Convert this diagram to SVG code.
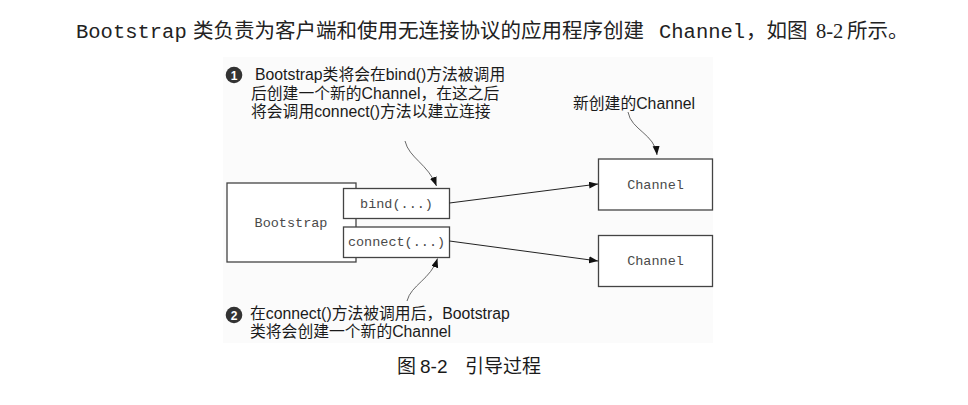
<svg xmlns="http://www.w3.org/2000/svg" width="968" height="405" viewBox="0 0 968 405">
<style>
.cn{font-family:"Liberation Sans","Noto Sans CJK SC",sans-serif;font-size:15.8px;fill:#1a1a1a}
.mono{font-family:"Liberation Mono","DejaVu Sans Mono",monospace;font-size:13.5px;fill:#4a4a4a;text-anchor:middle}
.box{fill:#fff;stroke:#444;stroke-width:1.3}
.conn{fill:none;stroke:#222;stroke-width:1}
.curve{fill:none;stroke:#444;stroke-width:0.8}
.num{font-family:"Liberation Sans",sans-serif;font-size:12px;font-weight:bold;fill:#fff;text-anchor:middle}
.top{font-size:20.5px;fill:#222}
.cap{font-family:"Liberation Sans","Noto Sans CJK SC",sans-serif;font-size:19px;fill:#1a1a1a}
</style>
<defs>
<marker id="ah" markerUnits="userSpaceOnUse" markerWidth="10" markerHeight="8" refX="9" refY="3.5" orient="auto">
<path d="M0,0 L9,3.5 L0,7 z" fill="#111"/>
</marker>
</defs>
<rect width="968" height="405" fill="#fff"/>
<text class="top" y="38"><tspan x="76" font-family="Liberation Mono,monospace">Bootstrap</tspan><tspan x="193" font-family="Noto Sans CJK SC,sans-serif">类负责为客户端和使用无连接协议的应用程序创建</tspan><tspan x="659" font-family="Liberation Mono,monospace">Channel</tspan><tspan x="746" font-family="Noto Sans CJK SC,sans-serif">，如图</tspan><tspan x="816" font-family="Liberation Serif,serif">8-2</tspan><tspan x="847" font-family="Noto Sans CJK SC,sans-serif">所示。</tspan></text>
<rect x="223" y="57" width="490" height="286" fill="#fbfbfb"/>
<g id="note1">
<circle cx="234" cy="75" r="8.3" fill="#333"/>
<text class="num" x="234" y="79.5">1</text>
<text class="cn"><tspan x="255" y="80">Bootstrap类将会在bind()方法被调用</tspan><tspan x="251" y="98.5">后创建一个新的Channel，在这之后</tspan><tspan x="251" y="117">将会调用connect()方法以建立连接</tspan></text>
</g>
<g id="note2">
<circle cx="234" cy="315" r="8.3" fill="#333"/>
<text class="num" x="234" y="319.5">2</text>
<text class="cn"><tspan x="250" y="318.5">在connect()方法被调用后，Bootstrap</tspan><tspan x="250" y="337">类将会创建一个新的Channel</tspan></text>
</g>
<g id="note3">
<text class="cn" x="573" y="108.5">新创建的Channel</text>
</g>
<g id="bootstrap">
<rect class="box" x="227" y="183" width="129" height="79"/>
<text class="mono" x="291" y="227">Bootstrap</text>
</g>
<g id="bind">
<rect class="box" x="343.5" y="188.5" width="106" height="30"/>
<text class="mono" x="396.5" y="207.5">bind(...)</text>
</g>
<g id="connect">
<rect class="box" x="343.5" y="227" width="106" height="30.5"/>
<text class="mono" x="396.5" y="246">connect(...)</text>
</g>
<g id="channel1">
<rect class="box" x="598.5" y="159" width="114" height="51"/>
<text class="mono" x="655.5" y="188.5">Channel</text>
</g>
<g id="channel2">
<rect class="box" x="598.5" y="235.5" width="114" height="51"/>
<text class="mono" x="655.5" y="265">Channel</text>
</g>
<g id="connectors">
<path class="conn" d="M449.5,203 L598,184" marker-end="url(#ah)"/>
<path class="conn" d="M449.5,241 L598,261" marker-end="url(#ah)"/>
<path class="curve" d="M405,141 C409,158 428,164 436.5,186" marker-end="url(#ah)"/>
<path class="curve" d="M407,301 C411,285 431,279 437.5,258.5" marker-end="url(#ah)"/>
<path class="curve" d="M628,112 C631,130 655,134 657,155" marker-end="url(#ah)"/>
</g>
<g id="caption">
<text class="cap" y="373"><tspan x="397">图</tspan><tspan x="420">8-2</tspan><tspan x="465">引导过程</tspan></text>
</g>
</svg>
